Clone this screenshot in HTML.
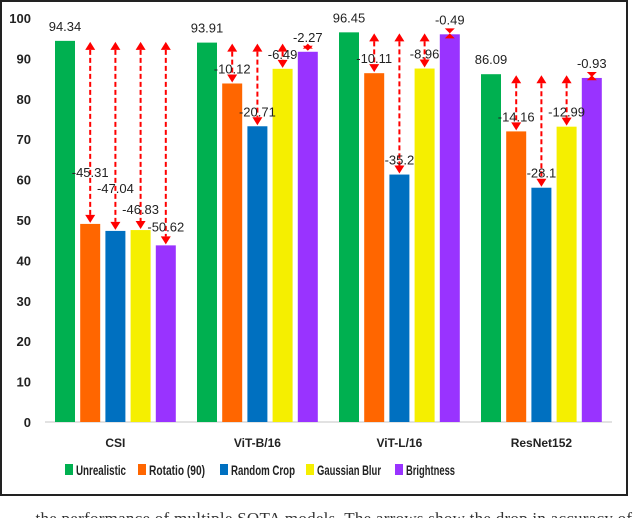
<!DOCTYPE html>
<html><head><meta charset="utf-8"><style>
html,body{margin:0;padding:0;background:#fff;width:640px;height:518px;overflow:hidden}
svg{display:block;font-family:"Liberation Sans",sans-serif}
</style></head><body>
<svg id="chart" width="640" height="518">
<rect x="1" y="1" width="626" height="494" fill="#fff" stroke="#222" stroke-width="2"/>
<text x="22" y="524" font-family="Liberation Serif,serif" font-size="17" fill="#333" textLength="610">...the performance of multiple SOTA models. The arrows show the drop in accuracy of</text>
</svg>
<script>
const categories=["CSI","ViT-B/16","ViT-L/16","ResNet152"];
const seriesNames=["Unrealistic","Rotatio (90)","Random Crop","Gaussian Blur","Brightness"];
const colors=["#00b050","#ff6600","#0070c0","#f5ef00","#9933ff"];
const unrealistic=[94.34,93.91,96.45,86.09];
const rotation=[49.03,83.79,86.34,71.93];
const randomCrop=[47.30,73.20,61.25,57.99];
const gaussianBlur=[47.51,87.42,87.49,73.10];
const brightness=[43.72,91.64,95.96,85.16];
const deltaLabels=[["-45.31","-47.04","-46.83","-50.62"],["-10.12","-20.71","-6.49","-2.27"],["-10.11","-35.2","-8.96","-0.49"],["-14.16","-28.1","-12.99","-0.93"]];
const yTicks=[0,10,20,30,40,50,60,70,80,90,100];
const series=[unrealistic,rotation,randomCrop,gaussianBlur,brightness];
const svg=document.getElementById('chart');
const NS='http://www.w3.org/2000/svg';
const y0=422,y100=18;
const y=v=>y0-(v/100)*(y0-y100);
const x=(g,s)=>55+g*142+s*25.2;
const bw=20;
const csiLabelLift=[52,43,21,19];
function mk(tag,attrs,parent){const e=document.createElementNS(NS,tag);for(const k in attrs)e.setAttribute(k,attrs[k]);(parent||svg).appendChild(e);return e;}
const ax=mk('line',{x1:45,x2:612,y1:y0,y2:y0,stroke:'#d9d9d9','stroke-width':1.5});


yTicks.forEach(t=>{const tx=mk('text',{x:31,y:y(t)+5,'text-anchor':'end','font-size':13,'font-weight':'bold',fill:'#222'});tx.textContent=t;

});
categories.forEach((c,g)=>{
  const t=mk('text',{x:x(g,2)+bw/2,y:447,'text-anchor':'middle','font-size':12,'font-weight':'bold',fill:'#222'});t.textContent=c;
  
  
  series.forEach((arr,s)=>{
    const v=arr[g];
    const r=mk('rect',{x:x(g,s),y:y(v),width:bw,height:y0-y(v),fill:colors[s]});
    
    
  });
  const vt=mk('text',{x:x(g,0)+bw/2,y:y(unrealistic[g])-10,'text-anchor':'middle','font-size':13,fill:'#222'});vt.textContent=unrealistic[g].toFixed(2);
  
  
  for(let s=1;s<5;s++){
    const cx=x(g,s)+bw/2, top=y(unrealistic[g])+1, bot=y(series[s][g])-1;
    const h=Math.max(5,Math.min(8,(bot-top)/2));
    if(bot-top>2*h){
      const ln=mk('line',{x1:cx,x2:cx,y1:top+h,y2:bot-h,stroke:'#ff0000','stroke-width':2,'stroke-dasharray':'5,3'});
      
      
    }
    const a1=mk('polygon',{points:`${cx-5},${top+h} ${cx+5},${top+h} ${cx},${top}`,fill:'#ff0000'});
    
    
    const a2=mk('polygon',{points:`${cx-5},${bot-h} ${cx+5},${bot-h} ${cx},${bot}`,fill:'#ff0000'});
    
    
    const lift=g===0?csiLabelLift[s-1]:15;
    const lt=mk('text',{x:cx,y:y(series[s][g])-lift+5,'text-anchor':'middle','font-size':13,fill:'#222'});lt.textContent=deltaLabels[g][s-1];
    
    
  }
});
const lx=[65,138,220,306,395];
const lw=[50,56,64,64,49];
seriesNames.forEach((n,i)=>{
  const r=mk('rect',{x:lx[i],y:464,width:8,height:11,fill:colors[i]});
  
  
  const t=mk('text',{x:lx[i]+11,y:475,'font-size':13.5,'font-weight':'bold',fill:'#222',textLength:lw[i],lengthAdjust:'spacingAndGlyphs'});t.textContent=n;
  
  
});
</script>
</body></html>
